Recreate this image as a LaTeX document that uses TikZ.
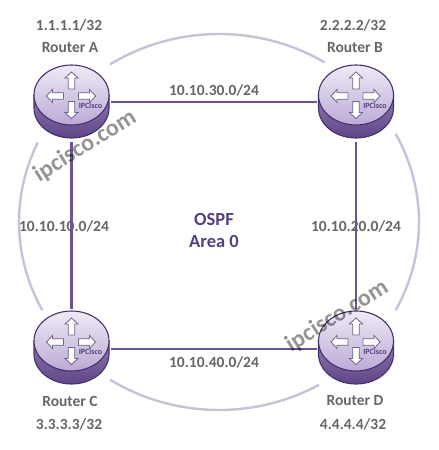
\documentclass[tikz,border=0pt]{standalone}
\usepackage{fontspec}
\setmainfont{Carlito}
\usetikzlibrary{shapes.geometric}
\definecolor{linkp}{HTML}{6A5590}
\definecolor{ringp}{HTML}{C9C1D8}
\definecolor{edgep}{HTML}{46316B}
\definecolor{bodyd}{HTML}{5F4587}
\definecolor{bodyl}{HTML}{8F78AF}
\definecolor{topl}{HTML}{EFEAF6}
\definecolor{topd}{HTML}{BBAAD6}
\definecolor{labelg}{HTML}{666666}
\definecolor{titlep}{HTML}{54407C}
\definecolor{arrows}{HTML}{6F6484}
\tikzset{
  x=1pt,y=-1pt,
  routerbox/.style={ellipse,minimum width=78pt,minimum height=80pt,inner sep=0pt},
  lab/.style={font=\fontsize{15.5}{17}\selectfont\bfseries,text=labelg,inner sep=0pt},
  title/.style={font=\fontsize{18.5}{20}\selectfont\bfseries,text=titlep,inner sep=0pt},
  link/.style={draw=linkp,line width=2.6pt},
  ring/.style={draw=ringp,line width=2.4pt},
  wm/.style={font=\fontsize{24}{26}\selectfont\bfseries,text=black,opacity=.42,rotate=32,inner sep=0pt},
  barrowshape/.style={fill=white,draw=arrows,line width=.8pt,line join=miter},
  pics/blockarrow/.style={code={
    \path[barrowshape] (0,-8.5)--(6.5,-2.5)--(3.2,-2.5)--(3.2,8.5)--(-3.2,8.5)--(-3.2,-2.5)--(-6.5,-2.5)--cycle;
  }},
  pics/routericon/.style={code={
    \path[draw=edgep,line width=1.1pt,top color=bodyl,bottom color=bodyd] (-37.5,-7) -- (37.5,-7) -- (37.5,6)
      arc[start angle=0,end angle=180,x radius=37.5,y radius=30] -- cycle;
    \path[draw=edgep,line width=1.1pt,top color=topl,bottom color=topd] (0,-7) ellipse[x radius=37.5,y radius=30];
    \pic[rotate=0] at (0,-21.5) {blockarrow};
    \pic[rotate=180] at (0,8) {blockarrow};
    \pic[rotate=90] at (-16.5,-6) {blockarrow};
    \pic[rotate=-90] at (15.5,-6) {blockarrow};
    \node[font=\fontsize{8}{9}\selectfont\bfseries,text=titlep,inner sep=0pt] at (19,3.5) {IPCisco};
  }},
}
\begin{document}
\begin{tikzpicture}
\useasboundingbox (0,0) rectangle (439,450);
\fill[white] (0,0) rectangle (439,450);
% ring
\draw[ring] plot[domain=237:302,samples=40] ({219+200*cos(\x)},{222+188*sin(\x)});
\draw[ring] plot[domain=152:205,samples=40] ({219+200*cos(\x)},{222+188*sin(\x)});
\draw[ring] plot[domain=60:123,samples=40] ({219+200*cos(\x)},{222+188*sin(\x)});
\draw[ring] plot[domain=-28:28,samples=40] ({219+200*cos(\x)},{222+188*sin(\x)});
% labels on links
\node[lab] (la) at (214,90) {10.10.30.0/24};
\node[lab] (lb) at (64,226) {10.10.10.0/24};
\node[lab] (lc) at (356,226) {10.10.20.0/24};
\node[lab] (ld) at (214,362) {10.10.40.0/24};
% router anchor nodes
\node[routerbox] (A) at (71.5,102) {};
\node[routerbox] (B) at (356,102) {};
\node[routerbox] (C) at (71.5,349) {};
\node[routerbox] (D) at (356,349) {};
\draw[link] (A) -- (B);
\draw[link] (A) -- (C);
\draw[link] (B) -- (D);
\draw[link] (C) -- (D);
\pic at (A) {routericon};
\pic at (B) {routericon};
\pic at ([yshift=1pt]C.center) {routericon};
\pic at ([yshift=1pt]D.center) {routericon};
% router labels
\node[lab] (a1) at (69,25) {1.1.1.1/32};
\node[lab] (a2) at (70,48) {Router A};
\node[lab] (b1) at (353,25) {2.2.2.2/32};
\node[lab] (b2) at (355,48) {Router B};
\node[lab] (c2) at (70,401) {Router C};
\node[lab] (c1) at (69,424) {3.3.3.3/32};
\node[lab] (d2) at (355,401) {Router D};
\node[lab] (d1) at (353,424) {4.4.4.4/32};
\node[title] (t1) at (214,219) {OSPF};
\node[title] (t2) at (214,241) {Area 0};
% watermarks
\node[wm] (w1) at (85,146) {ipcisco.com};
\node[wm] (w2) at (337,316) {ipcisco.com};
\end{tikzpicture}
\end{document}
